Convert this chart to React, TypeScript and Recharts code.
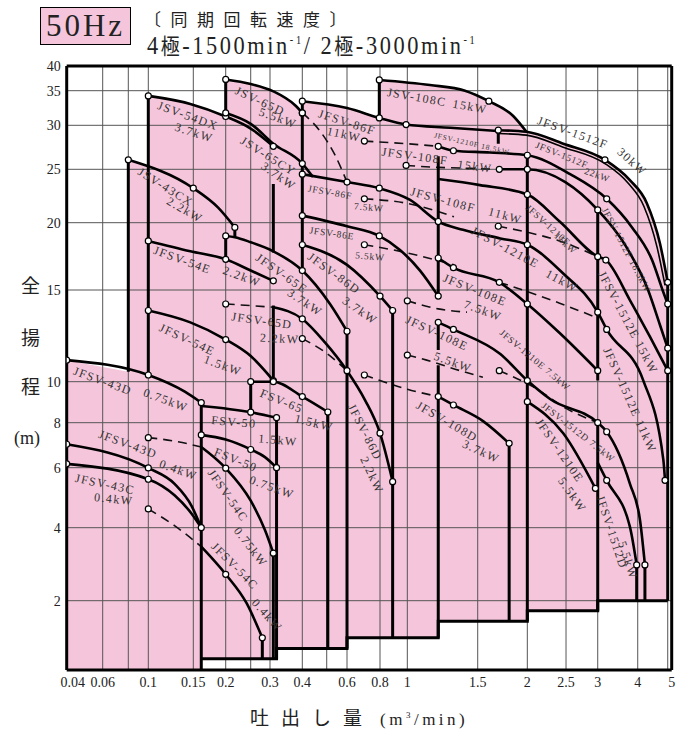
import React from 'react';
import { ComposedChart, Line, Area, XAxis, YAxis, ReferenceLine, Scatter } from 'recharts';

type Pt = [number, number];

// ---------- axis calibration (the original chart uses an irregular, piecewise-log scale) ----------
const X_STOP_Q = [0.04, 0.06, 0.08, 0.1, 0.15, 0.2, 0.25, 0.3, 0.4, 0.5, 0.6, 0.8, 1, 1.5, 2, 2.5, 3, 4, 5];
const X_STOP_U = [0, 36, 61.6, 81.6, 126.6, 159, 184, 203.3, 235.6, 260, 280.3, 313.3, 340.6, 411, 460.6, 499.3, 531, 571, 601];
const Y_STOP_H = [1, 2, 4, 6, 8, 10, 15, 20, 25, 30, 35, 40];
const Y_STOP_U = [0, 69.3, 142.3, 202.3, 247.3, 288.3, 380, 447.3, 500.7, 544.7, 579.3, 604];

const X_TICKS = [0.04, 0.06, 0.1, 0.15, 0.2, 0.3, 0.4, 0.6, 0.8, 1, 1.5, 2, 2.5, 3, 4, 5];
const X_TICK_LABELS = ['0.04', '0.06', '0.1', '0.15', '0.2', '0.3', '0.4', '0.6', '0.8', '1', '1.5', '2', '2.5', '3', '4', '5'];
const X_GRID = [0.06, 0.08, 0.1, 0.15, 0.2, 0.25, 0.3, 0.4, 0.5, 0.6, 0.8, 1, 1.5, 2, 2.5, 3, 4, 5];
const Y_TICKS = [2, 4, 6, 8, 10, 15, 20, 25, 30, 35, 40];
const Y_GRID = [2, 4, 6, 8, 10, 15, 20, 25, 30, 35];
const X_MAX = 5.15;
const Y_MIN = 1;
const Y_MAX = 40;

// ---------- selection area (pink) ----------
const PINK_TOP: Pt[] = [
  [0.04, 11.0], [0.08, 10.45], [0.08, 26.0], [0.1, 25.2], [0.1, 34.2], [0.146, 33.0], [0.2, 31.2],
  [0.2, 37.2], [0.25, 36.3], [0.309, 34.9], [0.375, 32.8], [0.4, 31.7], [0.4, 33.4], [0.6, 32.4],
  [0.795, 31.0], [0.795, 37.1], [1.139, 36.1], [1.394, 35.0], [1.6, 33.4], [1.84, 31.3], [1.99, 29.2],
  [2.46, 27.8], [3.16, 26.0], [3.78, 23.9], [4.28, 21.7], [4.72, 18.3], [5.0, 15.5], [5.0, 2.0],
];
const LOWER_STEPS: Pt[] = [
  [0.161, 1.12], [0.318, 1.12], [0.318, 1.24], [0.6, 1.24], [0.6, 1.38], [1.195, 1.38], [1.195, 1.63],
  [2.0, 1.63], [2.0, 1.81], [3.0, 1.81], [3.0, 2.0], [5.15, 2.0],
];
const STEP_OUTLINE: Pt[] = [
  [0.161, 1.12], [0.318, 1.12], [0.318, 1.24], [0.6, 1.24], [0.6, 1.38], [1.195, 1.38], [1.195, 1.63],
  [2.0, 1.63], [2.0, 1.81], [3.0, 1.81], [3.0, 2.0], [5.0, 2.0],
];

// ---------- pump curves (Q m3/min, H m) ----------
const JFSV43D_075: Pt[] = [[0.04, 11.0], [0.1, 10.3], [0.139, 9.47], [0.161, 8.92]];
const JFSV43D_04: Pt[] = [[0.04, 6.97], [0.1, 5.99], [0.127, 5.37], [0.148, 4.62], [0.161, 4.0]];
const JFSV43C_04: Pt[] = [[0.04, 6.15], [0.1, 5.55], [0.127, 4.97], [0.148, 4.39], [0.161, 4.0]];
const JSV43CX_22: Pt[] = [[0.08, 26.0], [0.15, 23.1], [0.187, 21.3], [0.217, 19.6]];
const JSV54DX_37: Pt[] = [[0.1, 34.2], [0.146, 33.0], [0.2, 31.2], [0.25, 29.6], [0.309, 27.5]];
const JSV65D_55: Pt[] = [[0.2, 37.2], [0.25, 36.3], [0.309, 34.9], [0.375, 32.8], [0.4, 31.7]];
const JSV65CY_37: Pt[] = [[0.2, 31.7], [0.25, 30.2], [0.309, 27.8], [0.4, 25.6], [0.441, 24.2]];
const JFSV54E_22: Pt[] = [[0.1, 18.5], [0.146, 17.7], [0.2, 17.1], [0.25, 16.3], [0.309, 15.6]];
const JFSV65E_37: Pt[] = [[0.2, 18.9], [0.217, 18.8], [0.25, 18.4], [0.309, 17.7], [0.4, 16.3], [0.515, 14.1], [0.6, 12.5]];
const JFSV54E_15: Pt[] = [[0.1, 13.7], [0.146, 13.0], [0.2, 12.05], [0.25, 11.2], [0.309, 10.05]];
const FSV65_15: Pt[] = [[0.25, 10.0], [0.309, 10.0], [0.4, 9.22], [0.505, 8.48]];
const FSV50_15: Pt[] = [[0.161, 8.76], [0.25, 8.47], [0.318, 8.22]];
const FSV50_075: Pt[] = [[0.161, 7.4], [0.2, 7.18], [0.25, 6.74], [0.286, 6.42], [0.318, 6.0]];
const JFSV54C_075: Pt[] = [[0.161, 6.85], [0.2, 5.98], [0.25, 4.8], [0.286, 3.91], [0.309, 3.14]];
const JFSV54C_04: Pt[] = [[0.161, 3.34], [0.2, 2.57], [0.241, 1.95], [0.279, 1.38]];
const JFSV86D_22: Pt[] = [[0.309, 13.9], [0.4, 13.2], [0.492, 11.9], [0.6, 10.5], [0.702, 9.05], [0.8, 7.48], [0.887, 5.46]];
const JFSV86F_11: Pt[] = [[0.4, 33.4], [0.6, 32.4], [0.795, 31.0], [0.99, 30.1], [1.28, 29.7], [1.69, 29.3]];
const JFSV1210E_11: Pt[] = [[0.4, 24.5], [0.6, 23.7], [0.795, 23.1], [1.016, 22.0], [1.195, 20.1], [1.378, 19.4], [1.71, 18.7], [2.0, 18.2], [2.46, 16.1], [3.0, 13.6], [3.2, 12.6], [4.17, 10.05], [4.84, 6.31], [4.9, 5.51]];
const JFSV86E_55: Pt[] = [[0.4, 20.6], [0.6, 19.7], [0.795, 18.9], [0.942, 17.8], [1.076, 16.3], [1.195, 14.6]];
const JFSV86D_37: Pt[] = [[0.4, 18.2], [0.6, 16.7], [0.8, 14.6], [0.887, 13.7]];
const JSV108C_15: Pt[] = [[0.795, 37.1], [1.139, 36.1], [1.394, 35.0], [1.6, 33.4], [1.84, 31.3], [1.99, 29.2]];
const JFSV1512F_30: Pt[] = [[1.69, 29.4], [1.99, 29.2], [2.46, 27.8], [3.16, 26.0], [3.78, 23.9], [4.28, 21.7], [4.72, 18.3], [5.0, 15.5]];
const JFSV1512F_30B: Pt[] = [[1.69, 29.0], [1.99, 28.8], [2.46, 27.4], [3.16, 25.6], [3.73, 23.6], [4.19, 21.4], [4.62, 18.0], [4.9, 15.3]];
const JFSV1512F_22: Pt[] = [[1.195, 27.5], [1.304, 27.0], [1.61, 26.8], [2.0, 26.5], [2.56, 24.5], [3.2, 22.1], [3.84, 19.6], [4.45, 17.05], [4.83, 14.9], [5.0, 14.1]];
const JFSV1512F_185: Pt[] = [[1.7, 25.0], [2.0, 25.0], [2.49, 23.7], [3.0, 21.1], [3.65, 18.2], [4.32, 15.0], [4.72, 12.85], [5.0, 11.6]];
const JFSV1512E_15: Pt[] = [[1.195, 24.0], [1.52, 23.4], [2.0, 22.5], [2.41, 20.1], [3.0, 17.3], [3.18, 17.05], [3.78, 14.35], [4.38, 12.2], [5.0, 10.5]];
const JFSV108E_75: Pt[] = [[1.195, 17.2], [1.304, 16.5], [1.7, 15.5], [2.0, 14.1], [2.41, 12.4], [3.0, 10.5]];
const JFSV1512D_75: Pt[] = [[1.195, 13.0], [1.304, 12.6], [1.71, 11.3], [2.0, 10.05], [2.28, 9.1], [3.0, 8.0], [3.2, 7.55], [3.78, 5.39], [4.07, 4.2], [4.22, 2.81]];
const JFSV1210E_55: Pt[] = [[2.0, 8.97], [2.46, 7.48], [2.96, 5.22]];
const JFSV1512D_55: Pt[] = [[3.0, 6.2], [3.2, 5.51], [3.78, 4.03], [3.97, 2.81]];
const JFSV108D_37: Pt[] = [[1.195, 9.22], [1.304, 8.81], [1.55, 8.06], [1.8, 7.01]];

// dashed (reduced-output) curves
const D_54C_075: Pt[] = [[0.1, 7.27], [0.127, 7.11], [0.161, 6.85]];
const D_54C_04: Pt[] = [[0.1, 4.54], [0.127, 4.05], [0.161, 3.34]];
const D_65D_22: Pt[] = [[0.2, 14.1], [0.25, 14.0], [0.309, 13.9]];
const D_86D_22: Pt[] = [[0.4, 12.1], [0.492, 11.4], [0.6, 10.5]];
const D_65D_55: Pt[] = [[0.4, 31.7], [0.47, 29.3], [0.539, 26.5], [0.6, 23.7]];
const D_86F_11: Pt[] = [[0.698, 28.1], [0.99, 27.8], [1.195, 27.5]];
const D_86F_75: Pt[] = [[0.698, 22.1], [0.99, 21.7], [1.308, 20.5]];
const D_86E_55: Pt[] = [[0.698, 18.2], [0.99, 17.6], [1.308, 16.7]];
const D_108D: Pt[] = [[0.698, 10.3], [0.8, 10.05], [1.0, 9.6], [1.195, 9.22]];
const D_108E_75: Pt[] = [[1.0, 14.3], [1.195, 13.8], [1.41, 13.6]];
const D_1210E_75: Pt[] = [[1.7, 15.5], [2.0, 14.9], [2.41, 14.15], [3.0, 13.25]];
const D_1512D_75: Pt[] = [[1.7, 10.5], [2.07, 9.72], [2.5, 8.65], [3.0, 8.0]];
const D_108E_55: Pt[] = [[1.0, 11.25], [1.118, 11.0], [1.355, 10.5], [1.546, 10.2]];
const D_108F_15: Pt[] = [[0.99, 25.4], [1.195, 25.2], [1.435, 25.1], [1.7, 25.0]];
const D_108F_11: Pt[] = [[1.69, 19.7], [2.0, 19.2], [2.41, 18.5], [3.0, 17.3]];

// range boundaries: [Q, H top, H bottom]
const BOUNDS: [number, number, number][] = [
  [0.08, 26.0, 10.45], [0.1, 34.2, 10.3], [0.161, 8.92, 1.0], [0.2, 37.2, 31.2], [0.2, 18.9, 17.05],
  [0.217, 19.6, 18.8], [0.25, 10.0, 8.47], [0.309, 23.5, 17.6], [0.309, 14.0, 10.0], [0.318, 8.22, 1.12],
  [0.309, 3.14, 1.12], [0.279, 1.38, 1.12], [0.4, 33.4, 16.3], [0.505, 8.48, 1.24], [0.6, 12.5, 1.24],
  [0.887, 13.7, 1.38], [0.795, 37.1, 31.0], [1.195, 26.4, 14.6], [1.195, 13.0, 11.5], [1.195, 10.75, 1.38],
  [1.69, 29.3, 27.8], [1.8, 7.01, 1.63], [2.0, 26.6, 1.63], [3.0, 21.1, 10.05], [3.0, 8.0, 1.81],
  [3.97, 2.81, 2.0], [4.22, 2.81, 2.0], [5.0, 15.5, 2.0],
];

// curve labels: [text, Q, H, angle]
const LABEL_TEXT: [string, number, number, number][] = [
  ['JSV-54DX', 0.143, 31.3, 20], ['3.7kW', 0.151, 29.1, 18],
  ['JSV-43CX', 0.117, 23.2, 32], ['2.2kW', 0.139, 21.1, 30],
  ['JFSV-54E', 0.136, 17.05, 20], ['2.2kW', 0.231, 15.9, 20],
  ['JFSV-54E', 0.142, 12.05, 25], ['1.5kW', 0.195, 10.75, 20],
  ['JFSV-43D', 0.06, 10.03, 20], ['0.75kW', 0.117, 9.05, 20],
  ['JFSV-43D', 0.0797, 6.97, 20], ['0.4kW', 0.131, 5.91, 20],
  ['JFSV-43C', 0.0616, 5.37, 12], ['0.4kW', 0.068, 4.85, 6],
  ['FSV-50', 0.215, 8.03, 5], ['1.5kW', 0.322, 7.16, 5],
  ['FSV-50', 0.219, 6.31, 22], ['0.75kW', 0.305, 5.26, 20],
  ['JFSV-54C', 0.204, 4.97, 55], ['0.75kW', 0.25, 3.33, 52],
  ['JFSV-54C', 0.217, 2.78, 45], ['0.4kW', 0.292, 1.73, 48],
  ['FSV-65', 0.333, 9.0, 22], ['1.5kW', 0.445, 7.99, 14],
  ['JSV-65D', 0.273, 33.4, 25], ['5.5kW', 0.322, 31.0, 20],
  ['JSV-65CY', 0.295, 26.4, 32], ['3.7kW', 0.324, 24.3, 35],
  ['JFSV-65E', 0.333, 16.1, 35], ['3.7kW', 0.41, 14.2, 34],
  ['JFSV-65D', 0.278, 13.1, 8], ['2.2kW', 0.327, 12.1, 3],
  ['JFSV-86F', 0.6, 30.4, 18], ['11kW', 0.584, 28.9, 12],
  ['JFSV-86D', 0.534, 16.1, 36], ['3.7kW', 0.672, 13.7, 35],
  ['JFSV-86D', 0.702, 7.53, 63], ['2.2kW', 0.745, 5.71, 65],
  ['JSV-108C', 1.057, 34.0, 10], ['15kW', 1.435, 32.6, 10],
  ['JFSV-108F', 1.045, 26.4, 8], ['15kW', 1.476, 25.3, 8],
  ['JFSV-108F', 1.228, 22.0, 15], ['11kW', 1.76, 20.6, 15],
  ['JFSV-1210E', 1.76, 18.0, 28], ['11kW', 2.44, 15.6, 28],
  ['JFSV-1512F', 2.6, 29.1, 20], ['30kW', 3.84, 25.8, 42],
  ['JFSV-1512E  15kW', 3.73, 13.0, 62], ['JFSV-1512E  11kW', 3.78, 9.05, 66],
  ['JFSV-108E', 1.477, 15.0, 22], ['7.5kW', 1.546, 13.7, 20],
  ['JFSV-108E', 1.187, 12.4, 25], ['5.5kW', 1.3, 10.9, 20],
  ['JFSV-108D', 1.257, 8.05, 30], ['3.7kW', 1.53, 6.66, 25],
  ['JFSV-1210E', 2.41, 6.7, 55], ['5.5kW', 2.59, 5.0, 55],
  ['JFSV-1512D', 3.32, 3.84, 72], ['5.5kW', 3.73, 2.94, 72],
];
const SMALL_LABEL_TEXT: [string, number, number, number][] = [
  ['JFSV-86F', 0.515, 22.7, 10], ['7.5kW', 0.726, 21.3, 5],
  ['JFSV-86E', 0.524, 19.1, 8], ['5.5kW', 0.733, 17.3, 5],
  ['JFSV-1210F', 2.25, 19.8, 42], ['15kW', 2.49, 18.3, 42],
  ['JFSV-1512F', 2.44, 26.5, 22], ['22kW', 2.99, 24.4, 20],
  ['JFSV-1512F 18.5kW', 3.68, 17.8, 62],
  ['JFSV-1210E 7.5kW', 2.09, 11.0, 40], ['JFSV-1512D 7.5kW', 2.68, 7.52, 38],
];
const TINY_LABEL_TEXT: [string, number, number, number][] = [
  ['JFSV-1210F 18.5kW', 1.45, 27.8, 13],
];

// ---------- scale helpers ----------
function interp(v: number, vs: number[], us: number[]) {
  let i = 0;
  while (i < vs.length - 2 && v > vs[i + 1]) i++;
  const t = Math.log(v / vs[i]) / Math.log(vs[i + 1] / vs[i]);
  return us[i] + t * (us[i + 1] - us[i]);
}
const tx = (q: number) => interp(q, X_STOP_Q, X_STOP_U);
const ty = (h: number) => interp(h, Y_STOP_H, Y_STOP_U);
const toXY = (pts: Pt[]) => pts.map(([q, h]) => ({ x: tx(q), y: ty(h) }));

const SOLID: { pts: Pt[]; dots: number[]; w?: number }[] = [
  { pts: JFSV43D_075, dots: [0, 1, 3] },
  { pts: JFSV43D_04, dots: [0, 1, 4] },
  { pts: JFSV43C_04, dots: [0, 1] },
  { pts: JSV43CX_22, dots: [0, 1, 3] },
  { pts: JSV54DX_37, dots: [0, 2, 4] },
  { pts: JSV65D_55, dots: [0, 4] },
  { pts: JSV65CY_37, dots: [0, 3] },
  { pts: JFSV54E_22, dots: [0, 2, 4] },
  { pts: JFSV65E_37, dots: [0, 4, 6] },
  { pts: JFSV54E_15, dots: [0, 2, 4] },
  { pts: FSV65_15, dots: [0, 1, 2, 3] },
  { pts: FSV50_15, dots: [1, 2] },
  { pts: FSV50_075, dots: [0, 2, 4] },
  { pts: JFSV54C_075, dots: [1, 4] },
  { pts: JFSV54C_04, dots: [1, 3] },
  { pts: JFSV86D_22, dots: [1, 3, 5, 6] },
  { pts: JFSV86F_11, dots: [0, 2, 3] },
  { pts: JFSV1210E_11, dots: [0, 1, 2, 4, 7, 9, 10, 13] },
  { pts: JFSV86E_55, dots: [0, 2, 5] },
  { pts: JFSV86D_37, dots: [0, 2, 3] },
  { pts: JSV108C_15, dots: [0, 3] },
  { pts: JFSV1512F_30, dots: [0, 3, 7] },
  { pts: JFSV1512F_30B, dots: [], w: 1.6 },
  { pts: JFSV1512F_22, dots: [0, 1, 3, 5, 9] },
  { pts: JFSV1512F_185, dots: [0, 1, 3, 7] },
  { pts: JFSV1512E_15, dots: [2, 4, 5, 8] },
  { pts: JFSV108E_75, dots: [0, 1, 3, 5] },
  { pts: JFSV1512D_75, dots: [0, 1, 3, 5, 6, 9] },
  { pts: JFSV1210E_55, dots: [0, 2] },
  { pts: JFSV1512D_55, dots: [1, 3] },
  { pts: JFSV108D_37, dots: [0, 1, 3] },
];
const DASHED: Pt[][] = [
  D_54C_075, D_54C_04, D_65D_22, D_86D_22, D_65D_55, D_86F_11, D_86F_75, D_86E_55, D_108D,
  D_108E_75, D_1210E_75, D_1512D_75, D_108E_55, D_108F_15, D_108F_11,
];

const PINK = '#F5C6DB';
const SERIF = "'Liberation Serif', 'DejaVu Serif', serif";
const CJK = "'Noto Sans CJK JP', 'Noto Sans CJK SC', sans-serif";

const makeDot = (marked: number[]) => (p: any) =>
  marked.includes(p.index) ? (
    <circle key={`d${p.index}`} cx={p.cx} cy={p.cy} r={3} fill="#fff" stroke="#000" strokeWidth={1.2} />
  ) : (
    <g key={`d${p.index}`} />
  );

const LabelShape = (p: any) => {
  const { cx, cy, payload } = p;
  if (cx == null || cy == null) return <g />;
  return (
    <text
      x={cx}
      y={cy}
      transform={`rotate(${payload.angle} ${cx} ${cy})`}
      textAnchor="middle"
      dominantBaseline="central"
      fontSize={payload.size}
      fontFamily={SERIF}
      letterSpacing={payload.size > 10 ? 1.4 : 0.8}
      fill="#333"
    >
      {payload.text}
    </text>
  );
};

export default function App() {
  const pinkData = toXY(PINK_TOP);
  const stepData = toXY(LOWER_STEPS);
  const outlineData = toXY(STEP_OUTLINE);
  const boundData: { x: number; y: number | null }[] = [];
  BOUNDS.forEach(([q, a, b]) => {
    boundData.push({ x: tx(q), y: ty(a) });
    boundData.push({ x: tx(q), y: ty(b) });
    boundData.push({ x: tx(q), y: null });
  });
  const labelData = [
    ...LABEL_TEXT.map(([text, q, h, angle]) => ({ x: tx(q), y: ty(h), text, angle, size: 12 })),
    ...SMALL_LABEL_TEXT.map(([text, q, h, angle]) => ({ x: tx(q), y: ty(h), text, angle, size: 9.5 })),
    ...TINY_LABEL_TEXT.map(([text, q, h, angle]) => ({ x: tx(q), y: ty(h), text, angle, size: 7.5 })),
  ];
  const xTickPos = X_TICKS.map(tx);
  const yTickPos = Y_TICKS.map(ty);
  const yFmt = (v: number) => {
    const i = yTickPos.findIndex((p) => Math.abs(p - v) < 0.01);
    return i >= 0 ? String(Y_TICKS[i]) : '';
  };
  const XTick = (p: any) => {
    const i = xTickPos.findIndex((v) => Math.abs(v - p.payload.value) < 0.01);
    if (i < 0) return <g />;
    const shift = i === 0 ? 6 : i === xTickPos.length - 1 ? 4 : 0;
    return (
      <text x={p.x + shift} y={p.y + 12} textAnchor="middle" fontSize={14} fontFamily={SERIF} fill="#222">
        {X_TICK_LABELS[i]}
      </text>
    );
  };
  const xMin = tx(0.04);
  const xMax = tx(X_MAX);
  const yMin = ty(Y_MIN);
  const yMax = ty(Y_MAX);

  return (
    <div style={{ position: 'absolute', left: 0, top: 0, width: 683, height: 731, background: '#fff' }}>
      {/* title */}
      <div
        style={{
          position: 'absolute', left: 40, top: 7, width: 91, height: 38, boxSizing: 'border-box',
          background: PINK, border: '1.5px solid #000', fontFamily: SERIF, fontSize: 31,
          lineHeight: '35px', textAlign: 'center', letterSpacing: 3, color: '#222',
        }}
      >
        50Hz
      </div>
      <div style={{ position: 'absolute', left: 144, top: 6, fontFamily: CJK, fontSize: 17, letterSpacing: 9.5, color: '#222', whiteSpace: 'nowrap' }}>
        〔同期回転速度〕
      </div>
      <div
        style={{
          position: 'absolute', left: 147, top: 28, fontFamily: SERIF, fontSize: 26, letterSpacing: 3,
          color: '#222', whiteSpace: 'nowrap', transform: 'scaleX(0.86)', transformOrigin: 'left top',
        }}
      >
        4<span style={{ fontFamily: CJK, fontSize: 22 }}>極</span>-1500min<sup style={{ fontSize: 12 }}>-1</sup>/ 2
        <span style={{ fontFamily: CJK, fontSize: 22 }}>極</span>-3000min<sup style={{ fontSize: 12 }}>-1</sup>
      </div>
      {/* y axis title */}
      {['全', '揚', '程'].map((c, i) => (
        <div key={c} style={{ position: 'absolute', left: 21, top: [271, 323, 372][i], fontFamily: CJK, fontSize: 19, color: '#222' }}>
          {c}
        </div>
      ))}
      <div style={{ position: 'absolute', left: 14, top: 428, fontFamily: SERIF, fontSize: 18, color: '#222' }}>(m)</div>
      {/* x axis title */}
      <div style={{ position: 'absolute', left: 250, top: 703, fontFamily: CJK, fontSize: 19, letterSpacing: 12, color: '#222', whiteSpace: 'nowrap' }}>
        吐出し量
        <span style={{ fontFamily: SERIF, fontSize: 17, letterSpacing: 3.5, marginLeft: 6 }}>
          (m<sup style={{ fontSize: 9 }}>3</sup>/min)
        </span>
      </div>

      <div style={{ position: 'absolute', left: 0, top: 0 }}>
        <ComposedChart width={683} height={731} margin={{ top: 66, right: 11.3, bottom: 31, left: 16.7 }}>
          <XAxis
            type="number"
            dataKey="x"
            domain={[xMin, xMax]}
            allowDataOverflow
            ticks={xTickPos}
            interval={0}
            axisLine={false}
            tickLine={false}
            tickSize={3}
            tickMargin={2}
            height={30}
            tick={XTick}
          />
          <YAxis
            type="number"
            dataKey="y"
            domain={[yMin, yMax]}
            allowDataOverflow
            ticks={yTickPos}
            interval={0}
            tickFormatter={yFmt}
            axisLine={false}
            tickLine={false}
            tickSize={4}
            tickMargin={2}
            width={50}
            tick={{ fontSize: 14, fontFamily: SERIF, fill: '#222' }}
          />
          <Area
            data={pinkData}
            dataKey="y"
            type="linear"
            baseValue={yMin}
            fill={PINK}
            fillOpacity={1}
            stroke="none"
            isAnimationActive={false}
            dot={false}
            activeDot={false}
            legendType="none"
          />
          <Area
            data={stepData}
            dataKey="y"
            type="linear"
            baseValue={yMin}
            fill="#fff"
            fillOpacity={1}
            stroke="none"
            isAnimationActive={false}
            dot={false}
            activeDot={false}
            legendType="none"
          />
          {X_GRID.map((q) => (
            <ReferenceLine key={`gx${q}`} x={tx(q)} stroke="#555" strokeWidth={1} />
          ))}
          {Y_GRID.map((h) => (
            <ReferenceLine key={`gy${h}`} y={ty(h)} stroke="#555" strokeWidth={1} />
          ))}
          {DASHED.map((pts, i) => (
            <Line
              key={`ds${i}`}
              data={toXY(pts)}
              dataKey="y"
              type="monotone"
              stroke="#111"
              strokeWidth={1.6}
              strokeDasharray="9 6"
              dot={makeDot([0])}
              activeDot={false}
              isAnimationActive={false}
              legendType="none"
            />
          ))}
          <Line
            data={boundData}
            dataKey="y"
            type="linear"
            stroke="#000"
            strokeWidth={3}
            dot={false}
            activeDot={false}
            connectNulls={false}
            isAnimationActive={false}
            legendType="none"
          />
          <Line
            data={outlineData}
            dataKey="y"
            type="linear"
            stroke="#000"
            strokeWidth={3}
            dot={false}
            activeDot={false}
            isAnimationActive={false}
            legendType="none"
          />
          {SOLID.map((s, i) => (
            <Line
              key={`s${i}`}
              data={toXY(s.pts)}
              dataKey="y"
              type="monotone"
              stroke="#000"
              strokeWidth={s.w ?? 2.6}
              dot={makeDot(s.dots)}
              activeDot={false}
              isAnimationActive={false}
              legendType="none"
            />
          ))}
          <ReferenceLine x={xMin} stroke="#000" strokeWidth={3} />
          <ReferenceLine x={xMax} stroke="#000" strokeWidth={3} />
          <ReferenceLine y={yMin} stroke="#000" strokeWidth={3} />
          <ReferenceLine y={yMax} stroke="#000" strokeWidth={3} />
          <Scatter data={labelData} dataKey="y" shape={LabelShape} isAnimationActive={false} legendType="none" />
        </ComposedChart>
      </div>
    </div>
  );
}
